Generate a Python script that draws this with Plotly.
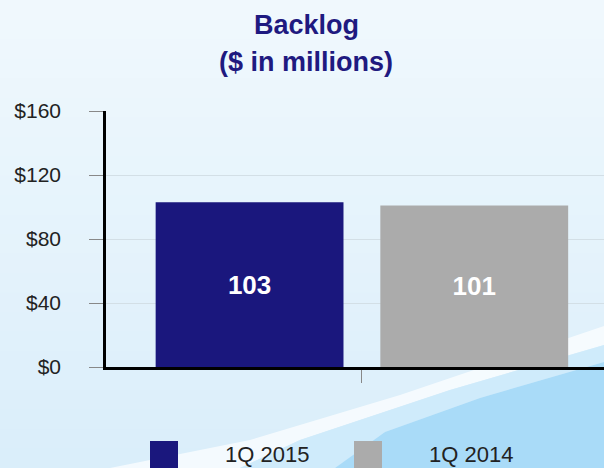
import plotly.graph_objects as go

W, H = 604, 468
ML, MR, MT, MB = 106, 0, 111, 101

# data
CATEGORY   = ["Backlog"]
SERIES     = ["1Q 2015", "1Q 2014"]
VALUES     = [103, 101]
COLORS     = ["#1A177D", "#ABABAB"]
Y_TICKS    = [0, 40, 80, 120, 160]
Y_LABELS   = ["$0", "$40", "$80", "$120", "$160"]

SANS = "Liberation Sans, Arial, sans-serif"


def px2paper(x, y):
    """pixel position in the window -> paper coords of the plot area"""
    pw = W - ML - MR
    ph = H - MT - MB
    return (x - ML) / pw, (H - MB - y) / ph


def path(points):
    pts = [px2paper(x, y) for x, y in points]
    return "M " + " L ".join(f"{x:.4f},{y:.4f}" for x, y in pts) + " Z"


def bg(points, color, opacity=1.0):
    return dict(type="path", xref="paper", yref="paper", layer="below",
                path=path(points), fillcolor=color, opacity=opacity,
                line=dict(width=0))


def mix(c1, c2, t):
    a = [int(c1[i:i + 2], 16) for i in (1, 3, 5)]
    b = [int(c2[i:i + 2], 16) for i in (1, 3, 5)]
    return "#" + "".join(f"{round(p + (q - p) * t):02X}" for p, q in zip(a, b))


fig = go.Figure()
for name, val, col in zip(SERIES, VALUES, COLORS):
    fig.add_trace(go.Bar(
        x=CATEGORY, y=[val], name=name,
        marker=dict(color=col, line=dict(width=0)),
        text=[f"{val}"], textposition="inside",
        insidetextanchor="middle",
        textfont=dict(family=SANS, size=26, color="white", weight="bold"),
        showlegend=False,
    ))

# background: soft vertical gradient made of thin strips
shapes = []
n_strips = 24
for k in range(n_strips):
    y0 = H * k / n_strips
    y1 = H * (k + 1) / n_strips + 1
    shapes.append(bg([(0, y0), (W, y0), (W, y1), (0, y1)],
                     mix("#F0F8FD", "#DAEEFA", k / (n_strips - 1))))

# white swoosh and blue corner
shapes += [
    bg([(110, 468), (250, 440), (400, 395), (604, 326),
        (604, 345), (450, 390), (300, 440), (240, 468)], "white", 0.7),
    bg([(240, 468), (300, 440), (450, 390), (604, 345),
        (604, 362), (480, 398), (385, 432), (335, 468)], "#CFEBFB", 1.0),
    bg([(335, 468), (385, 432), (480, 398), (604, 362),
        (604, 468)], "#A9DBF8", 1.0),
]

# legend boxes
leg_x = [150, 354]
txt_x = [223, 427]
annotations = []
for i, (name, col) in enumerate(zip(SERIES, COLORS)):
    x0, y0 = px2paper(leg_x[i], 441)
    x1, y1 = px2paper(leg_x[i] + 28, 470)
    shapes.append(dict(type="rect", xref="paper", yref="paper",
                       x0=x0, x1=x1, y0=y0, y1=y1,
                       fillcolor=col, line=dict(width=0)))
    tx, ty = px2paper(txt_x[i], 454)
    annotations.append(dict(text=name, xref="paper", yref="paper",
                            x=tx, y=ty, xanchor="left", yanchor="middle",
                            showarrow=False,
                            font=dict(family=SANS, size=22, color="#222222")))

# title lines as annotations
for line, cy in [("Backlog", 25), ("($ in millions)", 62)]:
    tx, ty = px2paper(306, cy)
    annotations.append(dict(text=f"<b>{line}</b>", xref="paper", yref="paper",
                            x=tx, y=ty, xanchor="center", yanchor="middle",
                            showarrow=False,
                            font=dict(family=SANS, size=27, color="#1F1A80")))

fig.update_layout(
    width=W, height=H,
    margin=dict(l=ML, r=MR, t=MT, b=MB),
    paper_bgcolor="#E9F5FC",
    plot_bgcolor="rgba(0,0,0,0)",
    barmode="group", bargap=0.122, bargroupgap=0.164,
    shapes=shapes,
    annotations=annotations,
    showlegend=False,
)

fig.update_xaxes(range=[-0.5, 0.473], showticklabels=False,
                 ticks="outside", ticklen=13, tickcolor="#888888", tickwidth=1,
                 showline=True, linecolor="black", linewidth=2.5,
                 showgrid=False, zeroline=False, fixedrange=True)
fig.update_yaxes(range=[0, 160], tickvals=Y_TICKS, ticktext=Y_LABELS,
                 ticks="outside", ticklen=14, tickcolor="#888888", tickwidth=1,
                 ticklabelstandoff=24,
                 tickfont=dict(family=SANS, size=21, color="#222222"),
                 showline=True, linecolor="black", linewidth=2.5,
                 showgrid=True, gridcolor="#D3DFE6", gridwidth=1,
                 zeroline=False, fixedrange=True)

fig.write_html("out.html", config={"displayModeBar": False},
               post_script="document.body.style.margin='0';"
                           "document.body.style.overflow='hidden';")
